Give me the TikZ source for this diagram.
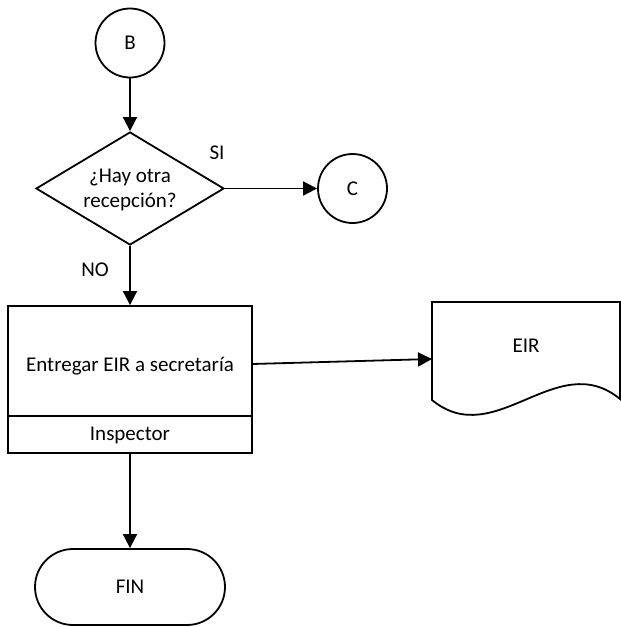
\documentclass[tikz,border=0pt]{standalone}
\usepackage{fontspec}
\setmainfont{Carlito}
\usetikzlibrary{shapes.geometric,arrows.meta}
\begin{document}
\begin{tikzpicture}[x=1pt,y=-1pt,
  line width=1.8pt,
  every node/.style={font=\fontsize{21}{25}\selectfont},
  connector/.style={circle,draw,minimum size=69pt,inner sep=0pt},
  decision/.style={diamond,draw,minimum width=188pt,minimum height=113pt,inner sep=0pt},
  process/.style={rectangle,draw,minimum width=244pt,minimum height=147pt,inner sep=0pt},
  terminal/.style={rectangle,draw,rounded corners=38pt,minimum width=190pt,minimum height=76pt,inner sep=0pt},
  flow/.style={-{Triangle[length=14pt,width=14pt]}},
  plain/.style={inner sep=0pt}]
\useasboundingbox (0,0) rectangle (621,627);

% connectors and decision
\node[connector] (B) at (130,43) {B};
\node[decision] (q) at (130,188.5) {};
\node[plain,align=center] (qtext) at (130,190) {¿Hay otra\\recepción?};
\node[connector] (C) at (352.5,188.5) {C};

% process box with role strip
\node[process] (task) at (130,379.5) {};
\node[plain] (tasktext) at (130,366) {Entregar EIR a secretaría};
\node[plain] (role) at (130,435) {Inspector};
\coordinate (divL) at (8,416);
\coordinate (divR) at (252,416);
\draw (divL) -- (divR);

% document shape
\draw (432,302) -- (620,302) -- (620,399)
  .. controls (557,347) and (495,452) .. (432,400) -- cycle;
\node[plain] (doc) at (526,346) {EIR};
\coordinate (docin) at (432,359);
\coordinate (taskout) at (252,364);

% terminal
\node[terminal] (fin) at (130,587) {FIN};

% flow lines
\draw[flow] (B) -- (q.north);
\draw[flow] (q.east) -- (C);
\draw[flow] (q.south) -- (task.north);
\draw[flow] (taskout) -- (docin);
\draw[flow] (task.south) -- (fin.north);

% branch labels
\node[plain] (si) at (217,153) {SI};
\node[plain] (no) at (95,270) {NO};
\end{tikzpicture}
\end{document}
